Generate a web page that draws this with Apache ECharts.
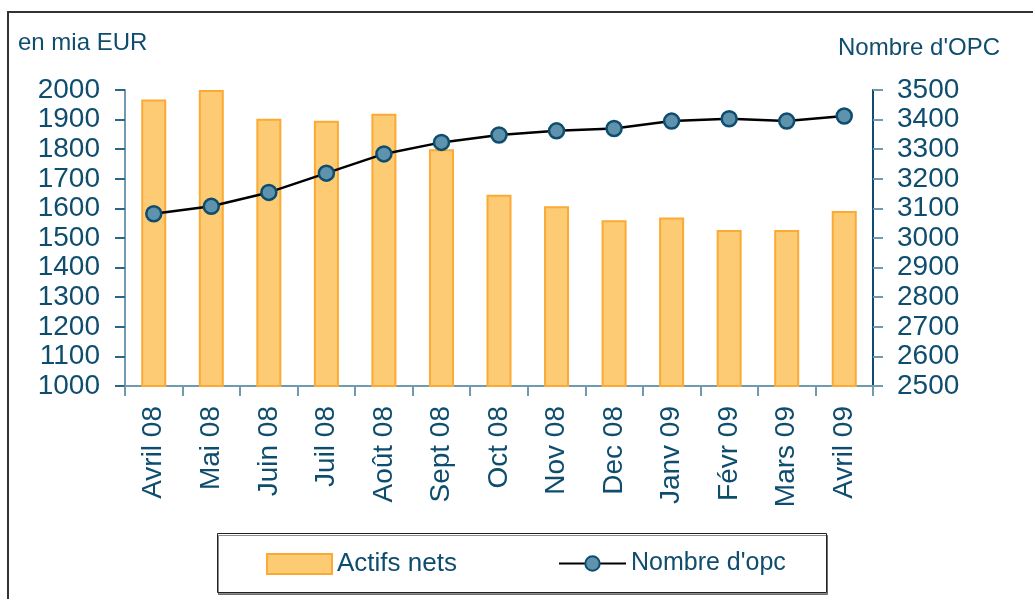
<!DOCTYPE html>
<html>
<head>
<meta charset="utf-8">
<script src="https://cdn.jsdelivr.net/npm/echarts@6/dist/echarts.min.js"></script>
<style>html,body{margin:0;padding:0;background:#fff;}#c{width:1033px;height:599px;}</style>
</head>
<body>
<div id="c"></div>
<script>
const categories = ['Avril 08','Mai 08','Juin 08','Juil 08','Août 08','Sept 08','Oct 08','Nov 08','Dec 08','Janv 09','Févr 09','Mars 09','Avril 09'];
const actifsNets = [1968, 2000, 1903, 1896, 1920, 1800, 1646, 1607, 1560, 1569, 1527, 1527, 1591];
const nombreOpc = [3082, 3107, 3154, 3219, 3284, 3323, 3348, 3362, 3370, 3395, 3403, 3395, 3412];
const leftTitle = 'en mia EUR';
const rightTitle = "Nombre d'OPC";

const txt = '#0E4D6E';
const FONT = '"Liberation Sans", Arial, sans-serif';
const chart = echarts.init(document.getElementById('c'), null, {renderer: 'canvas'});
chart.setOption({
  animation: false,
  backgroundColor: '#fff',
  textStyle: {fontFamily: FONT},
  grid: {left: 125, right: 160, top: 90, bottom: 213, containLabel: false},
  graphic: [
    {type: 'rect', shape: {x: 8, y: 12, width: 1100, height: 700}, style: {fill: 'none', stroke: '#333', lineWidth: 2}, z: -1},
    {type: 'rect', shape: {x: 217.5, y: 533.5, width: 609, height: 59}, style: {fill: '#fff', stroke: '#222', lineWidth: 1, shadowColor: 'rgba(0,0,0,0.45)', shadowOffsetY: 2, shadowOffsetX: 1, shadowBlur: 0}, z: -1},
    {type: 'text', left: 18, top: 31, style: {text: leftTitle, fill: txt, font: '24px ' + FONT}},
    {type: 'text', left: 838, top: 36, style: {text: rightTitle, fill: txt, font: '24px ' + FONT}}
  ],
  legend: [
    {data: [{name: 'Actifs nets', icon: 'rect'}], left: 266, top: 551, padding: 0, itemWidth: 65, itemHeight: 20, textStyle: {color: txt, fontSize: 26, fontFamily: FONT}},
    {data: ["Nombre d'opc"], left: 558, top: 551, padding: 0, itemWidth: 67, itemHeight: 18, textStyle: {color: txt, fontSize: 25, fontFamily: FONT}}
  ],
  xAxis: {
    type: 'category', data: categories, boundaryGap: true,
    axisLine: {lineStyle: {color: '#6F9AB0', width: 2}},
    axisTick: {show: true, length: 10, lineStyle: {color: '#6F9AB0', width: 2}},
    axisLabel: {rotate: 90, margin: 20, color: txt, fontSize: 28, fontFamily: FONT, interval: 0}
  },
  yAxis: [
    {type: 'value', min: 1000, max: 2000, interval: 100, position: 'left',
     axisLine: {show: true, lineStyle: {color: '#6F9AB0', width: 2}},
     axisTick: {show: true, length: 10, lineStyle: {color: '#2C6686', width: 2}},
     axisLabel: {color: txt, fontSize: 28, fontFamily: FONT, margin: 25, formatter: v => String(v)},
     splitLine: {show: false}},
    {type: 'value', min: 2500, max: 3500, interval: 100, position: 'right',
     axisLine: {show: true, lineStyle: {color: '#0E4D6E', width: 2}},
     axisTick: {show: true, length: 10, lineStyle: {color: '#6F9AB0', width: 2}},
     axisLabel: {color: txt, fontSize: 28, fontFamily: FONT, margin: 24, formatter: v => String(v)},
     splitLine: {show: false}}
  ],
  series: [
    {name: 'Actifs nets', type: 'bar', data: actifsNets, yAxisIndex: 0, barWidth: 25,
     itemStyle: {color: '#FDCB74', borderColor: '#FAAA35', borderWidth: 2}},
    {name: "Nombre d'opc", type: 'line', data: nombreOpc, yAxisIndex: 1,
     symbol: 'circle', symbolSize: 15,
     lineStyle: {color: '#000', width: 2.5},
     itemStyle: {color: '#5F92AC', borderColor: '#0E4D6E', borderWidth: 2.5}}
  ]
});
</script>
</body>
</html>
